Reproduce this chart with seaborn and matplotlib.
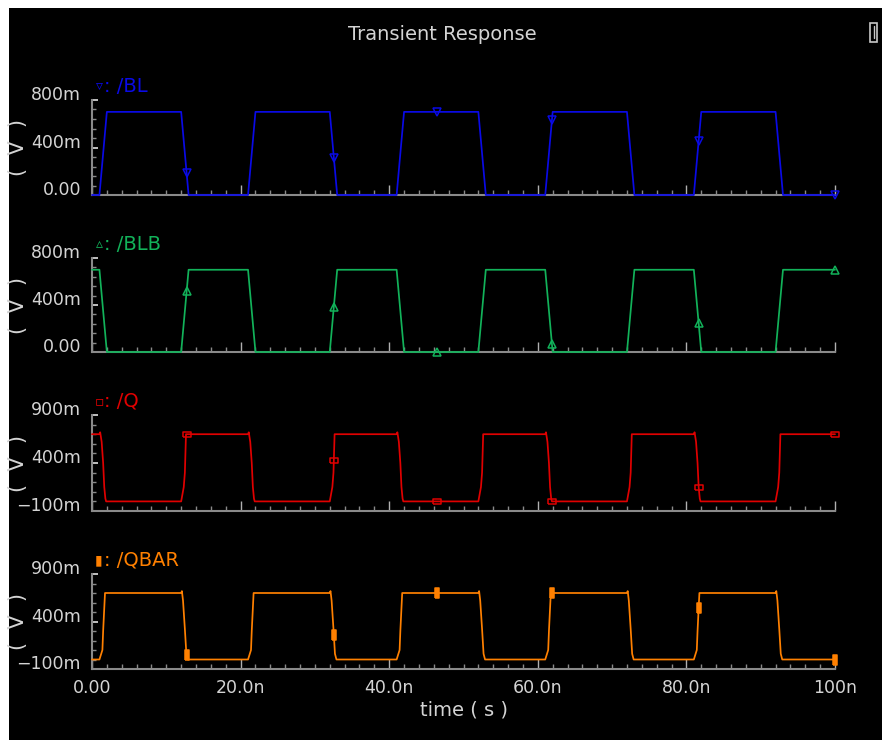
import matplotlib
matplotlib.use("Agg")
import matplotlib.pyplot as plt
import matplotlib.transforms as mtransforms
from matplotlib.patches import Rectangle
from matplotlib.ticker import MultipleLocator
import seaborn as sns
import numpy as np

# Data, time in ns, value in V
bl_t = [0, 1, 2, 12, 13, 21, 22, 32, 33, 41, 42, 52, 53, 61, 62, 72, 73, 81, 82, 92, 93, 100]
bl_v = [0, 0, .7, .7, 0, 0, .7, .7, 0, 0, .7, .7, 0, 0, .7, .7, 0, 0, .7, .7, 0, 0]
blb_t = bl_t
blb_v = [.7, .7, 0, 0, .7, .7, 0, 0, .7, .7, 0, 0, .7, .7, 0, 0, .7, .7, 0, 0, .7, .7]

q_t = [0.0,
       1.0, 1.1, 1.3, 1.5, 1.65, 1.8, 1.9, 12.0, 12.35, 12.5, 12.65,
       21.0, 21.1, 21.3, 21.5, 21.65, 21.8, 21.9, 32.0, 32.35, 32.5, 32.65,
       41.0, 41.1, 41.3, 41.5, 41.65, 41.8, 41.9, 52.0, 52.35, 52.5, 52.65,
       61.0, 61.1, 61.3, 61.5, 61.65, 61.8, 61.9, 72.0, 72.35, 72.5, 72.65,
       81.0, 81.1, 81.3, 81.5, 81.65, 81.8, 81.9, 92.0, 92.35, 92.5, 92.65,
       100.0]
q_v = [0.70,
       0.70, 0.72, 0.62, 0.40, 0.15, 0.03, 0.0, 0.0, 0.15, 0.30, 0.70,
       0.70, 0.72, 0.62, 0.40, 0.15, 0.03, 0.0, 0.0, 0.15, 0.30, 0.70,
       0.70, 0.72, 0.62, 0.40, 0.15, 0.03, 0.0, 0.0, 0.15, 0.30, 0.70,
       0.70, 0.72, 0.62, 0.40, 0.15, 0.03, 0.0, 0.0, 0.15, 0.30, 0.70,
       0.70, 0.72, 0.62, 0.40, 0.15, 0.03, 0.0, 0.0, 0.15, 0.30, 0.70,
       0.70]

qb_t = [0.0,
        1.0, 1.4, 1.5, 1.75, 12.0, 12.1, 12.25, 12.5, 12.7, 12.9,
        21.0, 21.4, 21.5, 21.75, 32.0, 32.1, 32.25, 32.5, 32.7, 32.9,
        41.0, 41.4, 41.5, 41.75, 52.0, 52.1, 52.25, 52.5, 52.7, 52.9,
        61.0, 61.4, 61.5, 61.75, 72.0, 72.1, 72.25, 72.5, 72.7, 72.9,
        81.0, 81.4, 81.5, 81.75, 92.0, 92.1, 92.25, 92.5, 92.7, 92.9,
        100.0]
qb_v = [0.0,
        0.0, 0.10, 0.30, 0.70, 0.70, 0.72, 0.62, 0.32, 0.06, 0.0,
        0.0, 0.10, 0.30, 0.70, 0.70, 0.72, 0.62, 0.32, 0.06, 0.0,
        0.0, 0.10, 0.30, 0.70, 0.70, 0.72, 0.62, 0.32, 0.06, 0.0,
        0.0, 0.10, 0.30, 0.70, 0.70, 0.72, 0.62, 0.32, 0.06, 0.0,
        0.0, 0.10, 0.30, 0.70, 0.70, 0.72, 0.62, 0.32, 0.06, 0.0,
        0.0]

# marker times shared by all traces
mark_t = [12.74, 32.55, 46.4, 61.9, 81.65, 100.0]

names = ["/BL", "/BLB", "/Q", "/QBAR"]
colors = ["#0a0ae6", "#12b25a", "#e00000", "#ff8000"]
ylims = [(0, 0.8), (0, 0.8), (-0.1, 0.9), (-0.1, 0.9)]
yticks = [[0, 0.4, 0.8], [0, 0.4, 0.8], [-0.1, 0.4, 0.9], [-0.1, 0.4, 0.9]]
ytick_labels = [["0.00", "400m", "800m"], ["0.00", "400m", "800m"],
                ["\u2212100m", "400m", "900m"], ["\u2212100m", "400m", "900m"]]
xticks = [0, 20, 40, 60, 80, 100]
xtick_labels = ["0.00", "20.0n", "40.0n", "60.0n", "80.0n", "100n"]

sns.set_style("dark")
plt.rcParams["font.family"] = ["DejaVu Sans"]

txt = "#d4d4d4"
spine = "#8a8a8a"

W, H = 882, 740
fig = plt.figure(figsize=(W / 100, H / 100), dpi=100, facecolor="white")
# black plotting window with the thin white frame top/left
fig.add_artist(Rectangle((9 / W, 0), 1 - 9 / W, 1 - 8 / H, transform=fig.transFigure,
                         facecolor="black", edgecolor="none", zorder=-10))

# panel extents in pixels (top, bottom)
panels_px = [(100, 195), (258, 352), (415, 511), (574, 669)]
x0, x1 = 92, 835

signals = [(bl_t, bl_v), (blb_t, blb_v), (q_t, q_v), (qb_t, qb_v)]
markers = ["v", "^",
           [(-1, -0.6), (1, -0.6), (1, 0.6), (-1, 0.6), (-1, -0.6)],
           [(-0.35, -1), (0.35, -1), (0.35, 1), (-0.35, 1), (-0.35, -1)]]
msizes = [6, 6, 6, 6.5]
mfaces = ["none", "none", "none", None]
legend_glyph = ["\u25bf", "\u25b5", "\u25ab", "\u25ae"]

axes = []
for i, (t, v) in enumerate(signals):
    top, bot = panels_px[i]
    ax = fig.add_axes([x0 / W, 1 - bot / H, (x1 - x0) / W, (bot - top) / H])
    ax.set_facecolor("none")
    c = colors[i]

    sns.lineplot(x=t, y=v, ax=ax, color=c, lw=1.25, estimator=None, sort=False)
    my = np.interp(mark_t, t, v)
    ax.plot(mark_t, my, ls="none", marker=markers[i], ms=msizes[i],
            mfc=mfaces[i] if mfaces[i] else c, mec=c, mew=1.1)
    for ln in ax.lines:
        ln.set_clip_on(False)
        ln.set_zorder(5)

    ax.set_xlim(0, 100)
    ax.set_ylim(*ylims[i])
    ax.grid(False)
    for s in ["top", "right"]:
        ax.spines[s].set_visible(False)
    for s in ["left", "bottom"]:
        ax.spines[s].set_color(spine)
        ax.spines[s].set_linewidth(1.5)

    ax.set_yticks(yticks[i])
    ax.set_yticklabels(ytick_labels[i])
    ax.yaxis.set_minor_locator(MultipleLocator(0.08 if i < 2 else 0.1))
    ax.set_xticks(xticks)
    ax.xaxis.set_minor_locator(MultipleLocator(2))
    ax.tick_params(axis="y", which="major", direction="in", length=4, width=1.2,
                   color="#e0e0e0", labelcolor=txt, labelsize=12.5, pad=8, left=True)
    ax.tick_params(axis="y", which="minor", direction="in", length=3, width=1,
                   color=spine, left=True)
    ax.tick_params(axis="x", which="major", direction="in", length=7.5, width=1,
                   color="#b0b0b0", labelcolor=txt, labelsize=12.5, pad=7, bottom=True)
    ax.tick_params(axis="x", which="minor", direction="in", length=3.5, width=1,
                   color=spine, bottom=True)
    # labels sit a little above their ticks, like the original
    off = mtransforms.ScaledTranslation(0, 5 / 72, fig.dpi_scale_trans)
    for lb in ax.get_yticklabels():
        lb.set_transform(lb.get_transform() + off)

    if i < 3:
        ax.tick_params(axis="x", labelbottom=False)
    ax.set_xlabel("")
    ax.set_ylabel("(  V  )", color=txt, fontsize=15, va="center")
    ax.yaxis.set_label_coords((18 - x0) / (x1 - x0), 0.5)

    hp = bot - top
    ax.text((99 - x0) / (x1 - x0), 1 + 14 / hp, legend_glyph[i], color=c,
            transform=ax.transAxes, ha="center", va="center", fontsize=10)
    ax.text((104 - x0) / (x1 - x0), 1 + 14 / hp, ": " + names[i], color=c,
            transform=ax.transAxes, ha="left", va="center", fontsize=14)
    axes.append(ax)

axes[-1].set_xticklabels(xtick_labels)
axes[-1].set_xlabel("time ( s )", color=txt, fontsize=14)
axes[-1].xaxis.set_label_coords(0.5, -(710 - 669) / (669 - 574))
axes[-1].xaxis.label.set_va("center")

fig.text(442 / W, 1 - 35 / H, "Transient Response", color=txt, fontsize=14,
         ha="center", va="center")

# small window badge in the top-right corner
fig.add_artist(Rectangle((870 / W, 1 - 42 / H), 7 / W, 19 / H, transform=fig.transFigure,
                         facecolor="none", edgecolor="#c8c8c8", lw=1.2))
fig.add_artist(plt.Line2D([873.5 / W, 873.5 / W], [1 - 38 / H, 1 - 26 / H],
                          transform=fig.transFigure, color="#c8c8c8", lw=1))

fig.savefig("out.png", dpi=100, facecolor="white")
